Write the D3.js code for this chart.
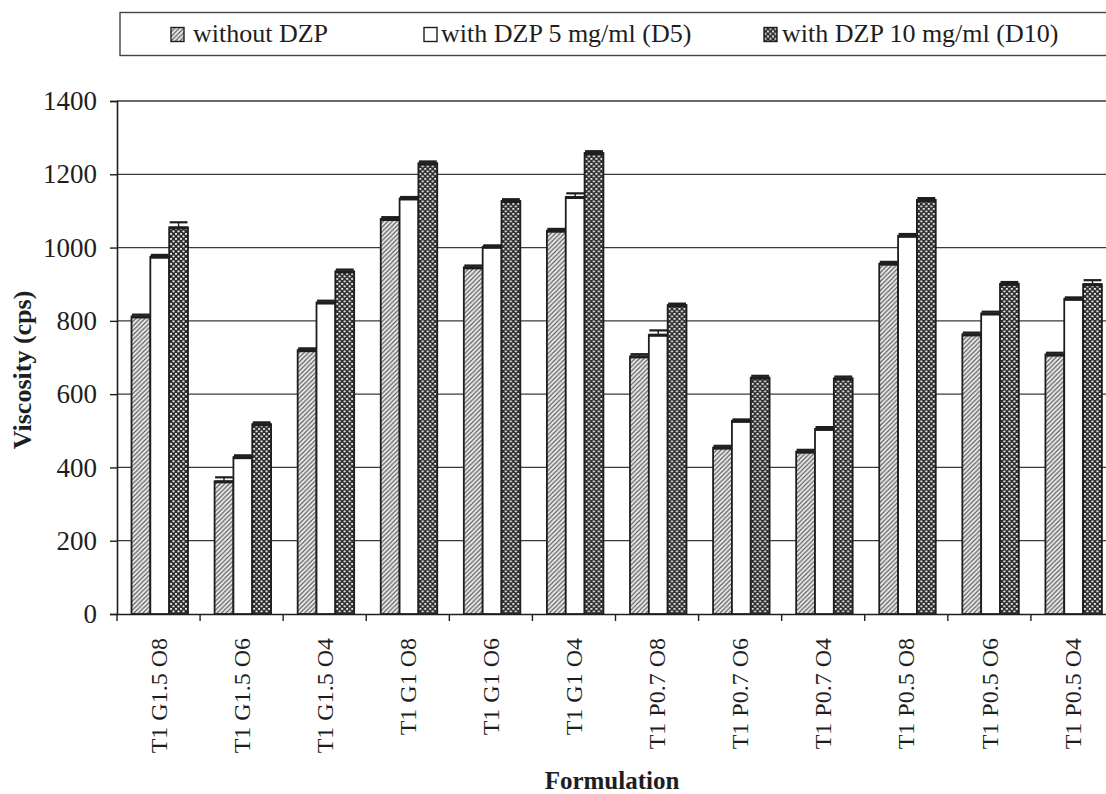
<!DOCTYPE html>
<html><head><meta charset="utf-8">
<script src="https://cdn.jsdelivr.net/npm/d3@7"></script>
<style>
html,body{margin:0;padding:0;background:#fff;}
svg{display:block;font-family:"Liberation Serif","Times New Roman",serif;}
</style></head>
<body>
<svg id="chart" width="1106" height="794"></svg>
<script>
const categories = ["T1 G1.5 O8","T1 G1.5 O6","T1 G1.5 O4","T1 G1 O8","T1 G1 O6","T1 G1 O4","T1 P0.7 O8","T1 P0.7 O6","T1 P0.7 O4","T1 P0.5 O8","T1 P0.5 O6","T1 P0.5 O4"];
const seriesNames = ["without DZP","with DZP 5 mg/ml (D5)","with DZP 10 mg/ml (D10)"];
const withoutDZP = [812, 362, 720, 1078, 946, 1046, 703, 454, 443, 956, 763, 708];
const withD5     = [975, 428, 850, 1134, 1002, 1138, 762, 527, 505, 1032, 820, 860];
const withD10    = [1055, 518, 935, 1230, 1127, 1258, 843, 645, 643, 1130, 901, 900];
const sdWithout  = [5, 11, 5, 5, 5, 5, 6, 5, 5, 5, 5, 5];
const sdD5       = [5, 5, 5, 4, 4, 10, 12, 4, 5, 5, 5, 4];
const sdD10      = [14, 5, 5, 5, 5, 5, 4, 5, 5, 5, 5, 11];
const yTicks = [0, 200, 400, 600, 800, 1000, 1200, 1400];

(function(){
const values = [withoutDZP, withD5, withD10];
const sds = [sdWithout, sdD5, sdD10];

const svg = d3.select("#chart");
const defs = svg.append("defs");

const ph = defs.append("pattern").attr("id","hatch").attr("patternUnits","userSpaceOnUse")
  .attr("width",4.5).attr("height",4.5);
ph.append("rect").attr("width",4.5).attr("height",4.5).attr("fill","#e8e8e8");
ph.append("path").attr("d","M-1,1 L1,-1 M0,4.5 L4.5,0 M3.5,5.5 L5.5,3.5")
  .attr("stroke","#4a4a4a").attr("stroke-width",1.1);
const pd = defs.append("pattern").attr("id","dots").attr("patternUnits","userSpaceOnUse")
  .attr("width",5).attr("height",5);
pd.append("rect").attr("width",5).attr("height",5).attr("fill","#2e2e2e");
pd.append("rect").attr("x",0.5).attr("y",0.5).attr("width",2).attr("height",1.8).attr("fill","#f2f2f2");
pd.append("rect").attr("x",3).attr("y",3).attr("width",2).attr("height",1.8).attr("fill","#e8e8e8");

const fills = ["url(#hatch)","#ffffff","url(#dots)"];

const pLeft = 117, pRight = 1114, pTop = 101, pBottom = 614;
const x0 = d3.scaleBand().domain(categories).range([pLeft, pRight]).padding(0);
const x1 = d3.scaleBand().domain([0,1,2]).range([14.5, 71]).padding(0);
const y = d3.scaleLinear().domain([0,1400]).range([pBottom, pTop]);

const ink = "#1e1e1e";

svg.append("g").selectAll("line").data(yTicks.filter(d=>d>0)).join("line")
  .attr("x1", pLeft).attr("x2", pRight)
  .attr("y1", d=>y(d)).attr("y2", d=>y(d))
  .attr("stroke","#3a3a3a").attr("stroke-width",1.3);

const yAxis = svg.append("g").attr("transform",`translate(${pLeft},0)`)
  .call(d3.axisLeft(y).tickValues(yTicks).tickSize(7).tickPadding(13).tickFormat(d3.format("d")));
yAxis.select(".domain").attr("stroke",ink).attr("stroke-width",1.6);
yAxis.selectAll(".tick line").attr("stroke",ink).attr("stroke-width",1.4);
yAxis.selectAll(".tick text").attr("font-size",27).attr("fill",ink)
  .attr("font-family","'Liberation Serif',serif");

const xAxis = svg.append("g").attr("transform",`translate(0,${pBottom})`)
  .call(d3.axisBottom(x0).tickSize(0).tickFormat(""));
xAxis.select(".domain").attr("stroke",ink).attr("stroke-width",1.6);
svg.append("g").selectAll("line").data(categories.concat(["__end"])).join("line")
  .attr("x1", (d,i)=> i<categories.length ? x0(d) : pRight)
  .attr("x2", (d,i)=> i<categories.length ? x0(d) : pRight)
  .attr("y1", pBottom).attr("y2", pBottom+7)
  .attr("stroke",ink).attr("stroke-width",1.4);

svg.append("g").selectAll("text").data(categories).join("text")
  .attr("transform", d=>`translate(${x0(d)+x0.bandwidth()/2},638) rotate(-90)`)
  .attr("text-anchor","end").attr("dy","0.34em")
  .attr("font-size",24).attr("fill",ink).text(d=>d);

const groups = svg.append("g").selectAll("g").data(categories).join("g")
  .attr("transform", d=>`translate(${x0(d)},0)`);
const bw = x1.bandwidth();
groups.each(function(cat, ci){
  const g = d3.select(this);
  [0,1,2].forEach(si=>{
    const v = values[si][ci], e = sds[si][ci];
    g.append("rect").attr("x", x1(si)).attr("y", y(v))
      .attr("width", bw).attr("height", y(0)-y(v))
      .attr("fill", fills[si]).attr("stroke", ink).attr("stroke-width",1.8);
    const xc = x1(si)+bw/2;
    g.append("line").attr("x1",xc).attr("x2",xc).attr("y1",y(v)).attr("y2",y(v+e))
      .attr("stroke",ink).attr("stroke-width",1.4);
    g.append("line").attr("x1",x1(si)+0.5).attr("x2",x1(si)+bw-0.5).attr("y1",y(v+e)).attr("y2",y(v+e))
      .attr("stroke",ink).attr("stroke-width",2.2);
    g.append("rect").attr("x",x1(si)).attr("y",y(v)-1).attr("width",bw).attr("height",3)
      .attr("fill",ink);
  });
});

svg.append("text").attr("transform",`translate(31,370) rotate(-90)`)
  .attr("text-anchor","middle").attr("font-size",26).attr("font-weight","bold")
  .attr("fill",ink).text("Viscosity (cps)");
svg.append("text").attr("x",612).attr("y",789)
  .attr("text-anchor","middle").attr("font-size",25).attr("font-weight","bold")
  .attr("fill",ink).text("Formulation");

svg.append("rect").attr("x",120).attr("y",12.5).attr("width",1000).attr("height",43)
  .attr("fill","none").attr("stroke","#444").attr("stroke-width",1.4);
const legendX = [171, 424, 764];
const legendTextGap = [22, 17, 18];
const lg = svg.append("g").selectAll("g").data(seriesNames).join("g")
  .attr("transform",(d,i)=>`translate(${legendX[i]},27.5)`);
lg.append("rect").attr("width",13).attr("height",14)
  .attr("fill",(d,i)=>fills[i]).attr("stroke",ink).attr("stroke-width",1.4);
lg.append("text").attr("x",(d,i)=>legendTextGap[i]).attr("y",14.5)
  .attr("font-size",26).attr("fill",ink).text(d=>d);
})();
</script>
</body></html>
